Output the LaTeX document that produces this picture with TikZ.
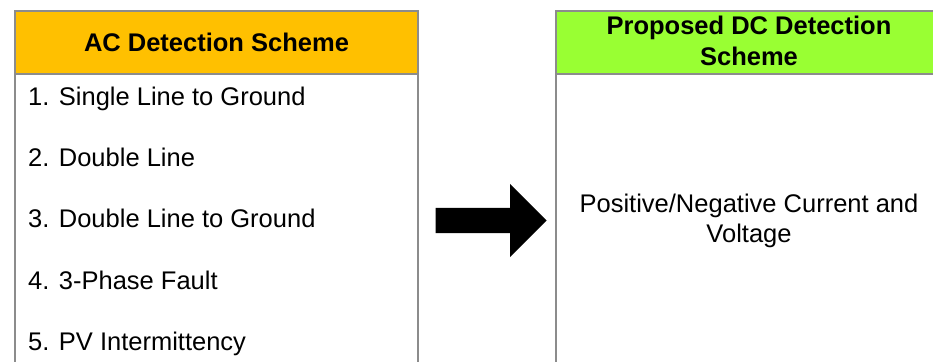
\documentclass[tikz,border=0pt]{standalone}
\usepackage{fontspec}
\setmainfont{Liberation Sans}
\usetikzlibrary{shapes.arrows}
\definecolor{hdrorange}{HTML}{FFC000}
\definecolor{hdrgreen}{HTML}{99FF33}
\definecolor{bordergray}{HTML}{8C8C8C}
\begin{document}
\begin{tikzpicture}[x=1pt,y=-1pt,
  boxline/.style={draw=bordergray,line width=1.1pt},
  hdrtext/.style={font=\fontsize{25.5}{30}\selectfont\bfseries,inner sep=0pt,anchor=base},
  itemtext/.style={font=\fontsize{25.5}{30}\selectfont,inner sep=0pt,anchor=base west},
  bodytext/.style={font=\fontsize{25.5}{30}\selectfont,inner sep=0pt,anchor=base}]
\useasboundingbox (0,0) rectangle (933,361);
\clip (0,0) rectangle (933,361);
% left box
\fill[white] (15,11) rectangle (418,380);
\fill[hdrorange] (15,11) rectangle (418,74);
\draw[boxline] (15,380) -- (15,11) -- (418,11) -- (418,380);
\draw[boxline] (15,74) -- (418,74);
% right box
\fill[hdrgreen] (556,11) rectangle (942,74);
\draw[boxline] (556,380) -- (556,11) -- (942,11) -- (942,380);
\draw[boxline] (556,74) -- (942,74);
% headers
\node[hdrtext] (achdr) at (216.5,52) {AC Detection Scheme};
\node[hdrtext] (dchdrA) at (749,35) {Proposed DC Detection};
\node[hdrtext] (dchdrB) at (749,65) {Scheme};
% items
\node[itemtext] (it1) at (28,105) {1. Single Line to Ground};
\node[itemtext] (it2) at (28,166.5) {2. Double Line};
\node[itemtext] (it3) at (28,227.5) {3. Double Line to Ground};
\node[itemtext] (it4) at (28,289) {4. 3-Phase Fault};
\node[itemtext] (it5) at (28,350) {5. PV Intermittency};
% right body
\node[bodytext] (dcA) at (749,212) {Positive/Negative Current and};
\node[bodytext] (dcB) at (749,242) {Voltage};
% arrow
\node[single arrow,fill=black,draw=none,inner xsep=0pt,inner ysep=12.5pt,
  minimum height=111pt,minimum width=73pt,single arrow head extend=24pt,
  single arrow tip angle=90,anchor=tip] (bigarrow) at (547,220.5) {};
\end{tikzpicture}
\end{document}
